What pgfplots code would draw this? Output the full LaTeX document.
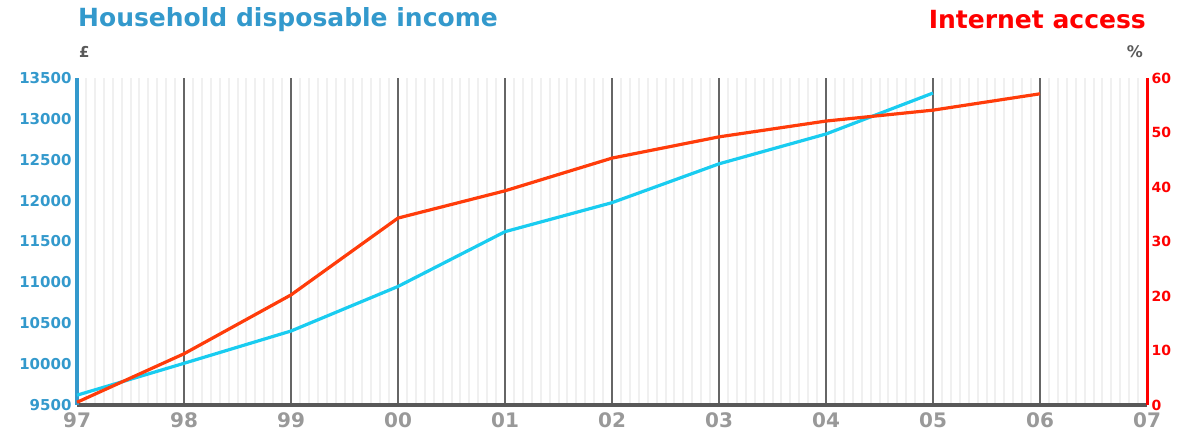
\documentclass[border=0pt]{standalone}
\usepackage{pgfplots}
\usepackage{pgfplotstable}
\pgfplotsset{compat=1.18}
\usepackage{fontspec}
\setmainfont{DejaVu Sans}
\definecolor{incblue}{RGB}{51,153,204}
\definecolor{lineblue}{RGB}{25,204,240}
\definecolor{netred}{RGB}{255,0,0}
\definecolor{linered}{RGB}{255,60,10}
\definecolor{tickgray}{RGB}{153,153,153}
\definecolor{unitgray}{RGB}{90,90,90}
\pgfplotstableread{
x inc
0 9620
1 10010
2 10405
3 10950
4 11620
5 11975
6 12450
7 12815
8 13316
}\income
\pgfplotstableread{
x net
0 0.5
1 9.4
2 20.2
3 34.3
4 39.3
5 45.3
6 49.2
7 52.1
8 54.1
9 57.1
}\internet
\begin{document}
\begin{tikzpicture}
\useasboundingbox (0,0) rectangle (1186bp,437bp);
\begin{axis}[
  at={(77bp,32bp)}, anchor=south west,
  scale only axis, width=1070bp, height=327bp,
  xmin=0, xmax=10, ymin=9500, ymax=13500,
  xtick={0,...,10},
  xticklabels={97,98,99,00,01,02,03,04,05,06,07},
  minor x tick num=11,
  ytick={9500,10000,...,13500},
  yticklabels={9500,10000,10500,11000,11500,12000,12500,13000,13500},
  scaled y ticks=false,
  axis x line*=bottom, axis y line*=left,
  x axis line style={-, draw=black!65, line width=4bp},
  y axis line style={-, draw=incblue, line width=3bp},
  major tick length=0pt, minor tick length=0pt,
  xmajorgrids, xminorgrids,
  major x grid style={draw=black!60, line width=1.4bp},
  minor x grid style={draw=black!6, line width=2bp},
  x tick label style={font=\fontsize{20bp}{20bp}\selectfont\bfseries, text=tickgray, yshift=-4bp},
  y tick label style={font=\fontsize{15bp}{15bp}\selectfont\bfseries, text=incblue, xshift=-2bp},
  clip=false,
]
\addplot[draw=lineblue, line width=3.2bp] table[x=x,y=inc]{\income};
\end{axis}
\begin{axis}[
  at={(77bp,32bp)}, anchor=south west,
  scale only axis, width=1070bp, height=327bp,
  xmin=0, xmax=10, ymin=0, ymax=60,
  ytick={0,10,...,60},
  yticklabels={0,10,20,30,40,50,60},
  axis x line=none, axis y line*=right,
  y axis line style={-, draw=netred, line width=3bp},
  major tick length=0pt,
  y tick label style={font=\fontsize{14bp}{14bp}\selectfont\bfseries, text=netred, xshift=1bp},
  clip=false,
]
\addplot[draw=linered, line width=3.2bp] table[x=x,y=net]{\internet};
\end{axis}
\node[anchor=west, text=incblue, font=\fontsize{25bp}{25bp}\selectfont\bfseries, inner sep=0pt] at (78bp,417bp) {Household disposable income};
\node[anchor=east, text=netred, font=\fontsize{25bp}{25bp}\selectfont\bfseries, inner sep=0pt] at (1146bp,417bp) {Internet access};
\node[anchor=west, text=unitgray, font=\fontsize{15bp}{15bp}\selectfont\bfseries, inner sep=0pt] at (79bp,385bp) {£};
\node[anchor=east, text=unitgray, font=\fontsize{16bp}{16bp}\selectfont\bfseries, inner sep=0pt] at (1143bp,385bp) {\%};
\end{tikzpicture}
\end{document}
